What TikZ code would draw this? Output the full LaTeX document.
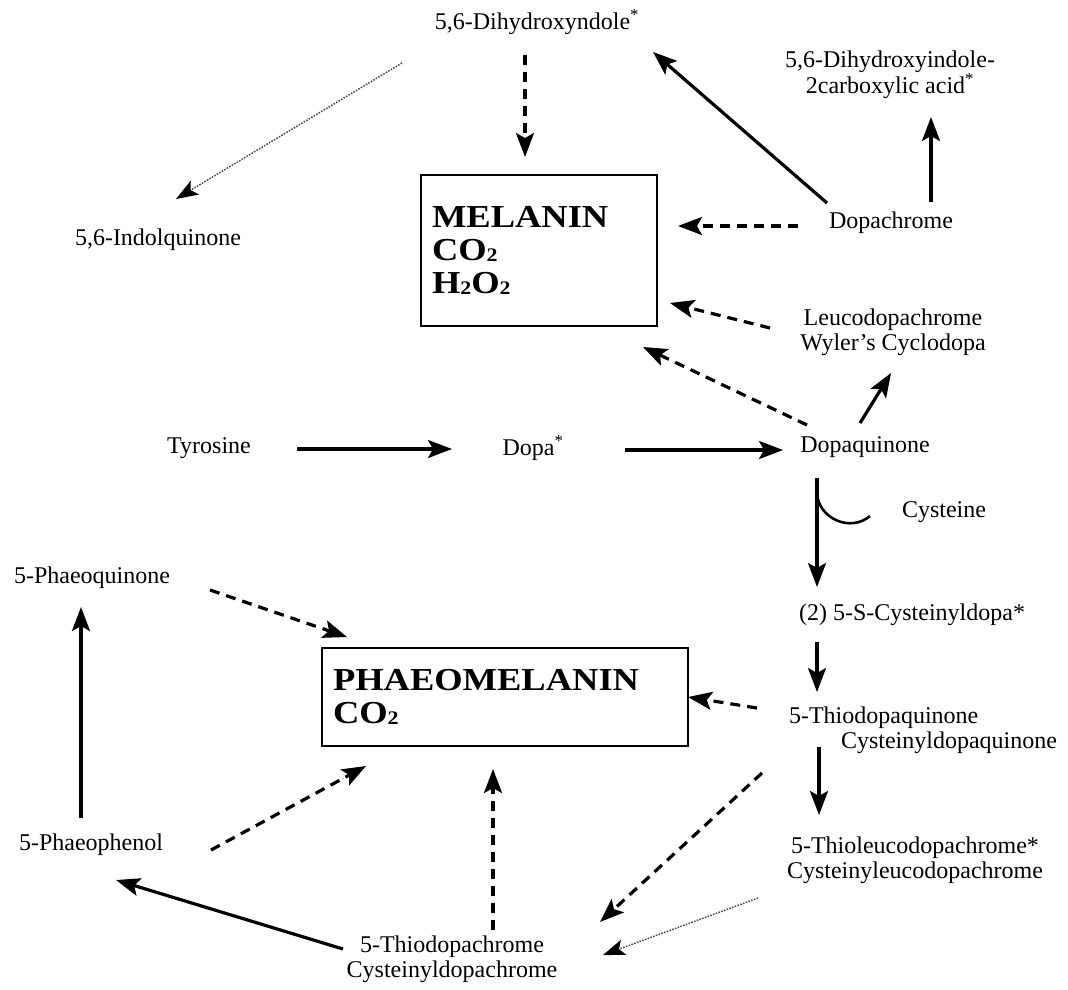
\documentclass[tikz,border=0pt]{standalone}
\usepackage{fontspec}
\setmainfont{Liberation Serif}
\usetikzlibrary{arrows.meta}
\tikzset{
  lbl/.style={inner sep=0pt, align=center, font=\fontsize{24}{25}\selectfont},
  boxnode/.style={draw, line width=2.8pt, inner ysep=0pt, inner xsep=11pt, align=left,
    font=\bfseries\fontsize{32}{33}\selectfont},
  solidarr/.style={line width=3.2pt, -{Stealth[length=24pt,width=18pt,inset=5pt]}},
  dasharr/.style={solidarr, dash pattern=on 10pt off 7pt},
  dotarr/.style={line width=1.5pt, draw=black!70, dash pattern=on 1.6pt off 1.3pt,
    -{Stealth[length=22pt,width=16pt,inset=5pt,color=black]}},
}
\newcommand{\wide}[1]{\scalebox{1.14}[1]{#1}}
\newcommand{\subtwo}{\raisebox{-0.5pt}{\scalebox{0.6}{2}}}
\begin{document}
\begin{tikzpicture}[x=1pt,y=-1pt]
\useasboundingbox (0,0) rectangle (1068,989);
% nodes
\node[lbl] (dhi) at (537,22) {5,6-Dihydroxyndole\textsuperscript{*}};
\node[lbl] (dhica) at (890,75) {5,6-Dihydroxyindole-\\2carboxylic acid\textsuperscript{*}};
\node[lbl] (indq) at (158,240) {5,6-Indolquinone};
\node[boxnode, minimum width=236pt, minimum height=151pt, text width=214pt] (mel) at (539,250.5)
  {\wide{MELANIN}\\\wide{CO\subtwo}\\\wide{H\subtwo O\subtwo}};
\node[lbl] (dc) at (891,223) {Dopachrome};
\node[lbl] (leuco) at (893,332) {Leucodopachrome\\Wyler's Cyclodopa};
\node[lbl] (tyr) at (209,448) {Tyrosine};
\node[lbl] (dopa) at (533,448) {Dopa\textsuperscript{*}};
\node[lbl] (dopaq) at (865,447) {Dopaquinone};
\node[lbl] (cys) at (944,512) {Cysteine};
\node[lbl] (cysdopa) at (912,615) {(2) 5-S-Cysteinyldopa*};
\node[lbl, align=left] (thioq) at (923,730) {5-Thiodopaquinone\\\hspace*{52pt}Cysteinyldopaquinone};
\node[lbl] (thiol) at (915,860) {5-Thioleucodopachrome*\\Cysteinyleucodopachrome};
\node[lbl] (thiochr) at (452,959) {5-Thiodopachrome\\Cysteinyldopachrome};
\node[lbl] (phenol) at (91,845) {5-Phaeophenol};
\node[lbl] (pquin) at (92,578) {5-Phaeoquinone};
\node[boxnode, minimum width=366pt, minimum height=98pt, text width=344pt] (phaeo) at (505,697)
  {\wide{PHAEOMELANIN}\\\wide{CO\subtwo}};
% connectors
\draw[dasharr] ([shift={(-12,33)}]dhi.center) -- ([shift={(-14,-93.5)}]mel.center);
\draw[dotarr] ([shift={(-135,41)}]dhi.center) -- ([shift={(18,-41)}]indq.center);
\draw[solidarr] ([shift={(-64,-20)}]dc.center) -- ([shift={(116,30)}]dhi.center);
\draw[solidarr] ([shift={(40,-21)}]dc.center) -- ([shift={(41,42)}]dhica.center);
\draw[dasharr] ([shift={(-93,3)}]dc.center) -- ([shift={(139,-24.5)}]mel.center);
\draw[dasharr] ([shift={(-123,-4)}]leuco.center) -- ([shift={(131,52.5)}]mel.center);
\draw[dasharr] ([shift={(-58,-22)}]dopaq.center) -- ([shift={(104,96.5)}]mel.center);
\draw[solidarr] ([shift={(-5,-24)}]dopaq.center) -- ([shift={(-2,41)}]leuco.center);
\draw[solidarr] ([shift={(88,1)}]tyr.center) -- ([shift={(-81,1)}]dopa.center);
\draw[solidarr] ([shift={(92,2)}]dopa.center) -- ([shift={(-82,3)}]dopaq.center);
\draw[solidarr] ([shift={(-48,31)}]dopaq.center) -- ([shift={(-95,-28)}]cysdopa.center);
\draw[line width=2.6pt] ([shift={(-48,46)}]dopaq.center) .. controls +(1,25) and +(-20,17) .. ([shift={(-74,4)}]cys.center);
\draw[solidarr] ([shift={(-95,27)}]cysdopa.center) -- ([shift={(-106,-38)}]thioq.center);
\draw[dasharr] ([shift={(-166,-22)}]thioq.center) -- ([shift={(183,0)}]phaeo.center);
\draw[solidarr] ([shift={(-104,17)}]thioq.center) -- ([shift={(-96,-45)}]thiol.center);
\draw[dasharr] ([shift={(-161,43)}]thioq.center) -- ([shift={(148,-37)}]thiochr.center);
\draw[dotarr] ([shift={(-157,38)}]thiol.center) -- ([shift={(151,-4)}]thiochr.center);
\draw[dasharr] ([shift={(41,-29)}]thiochr.center) -- ([shift={(-12,72)}]phaeo.center);
\draw[solidarr] ([shift={(-109,-10)}]thiochr.center) -- ([shift={(25,35)}]phenol.center);
\draw[dasharr] ([shift={(120,5)}]phenol.center) -- ([shift={(-139,69)}]phaeo.center);
\draw[solidarr] ([shift={(-10,-27)}]phenol.center) -- ([shift={(-11,29)}]pquin.center);
\draw[dasharr] ([shift={(118,12)}]pquin.center) -- ([shift={(-158,-60)}]phaeo.center);
\end{tikzpicture}
\end{document}
